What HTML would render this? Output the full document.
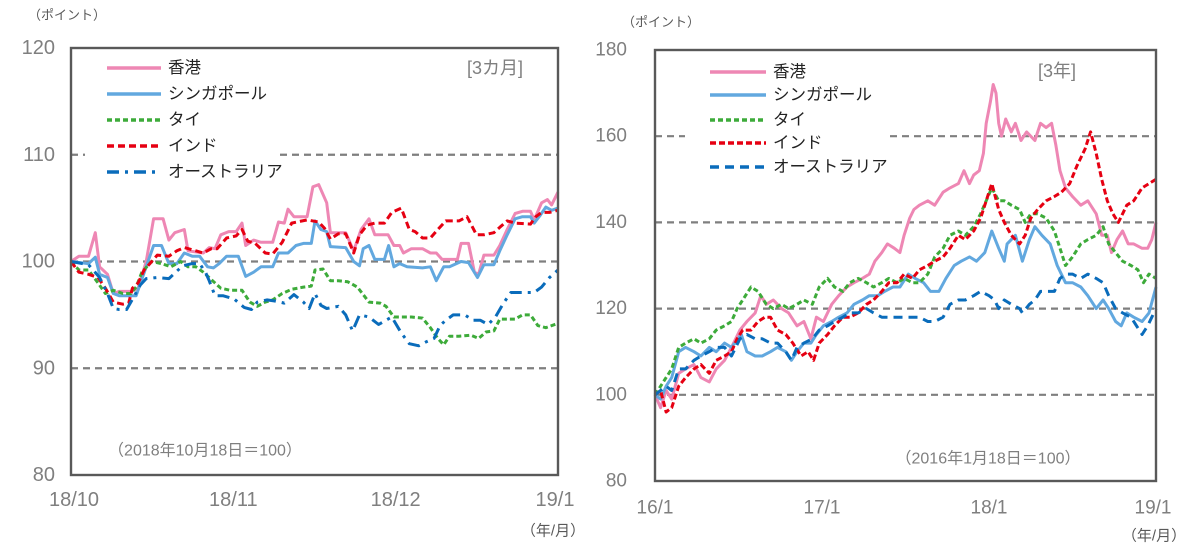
<!DOCTYPE html>
<html><head><meta charset="utf-8">
<style>
body{margin:0;background:#fff;}
svg{display:block;font-family:"Liberation Sans","Noto Sans CJK JP",sans-serif;}
</style></head>
<body>
<svg id="c" width="1188" height="549" viewBox="0 0 1188 549"></svg>
<script>
// ---------- Left chart data (x = days since 2018/10/18, 92 days to 2019/1/18) ----------
const leftTicksY=[80,90,100,110,120];
const leftTickLabelsX=["18/10","18/11","18/12","19/1"];
const hkD=[0,1.5,3.3,4.6,5.4,6.9,8.0,9.1,11.3,12.7,14.2,15.6,17.4,18.5,19.6,21.4,22.1,25.0,26.1,27.2,28.3,29.8,31.2,32.3,33.0,34.5,35.9,38.1,39.2,40.3,41.0,42.1,44.6,45.7,46.8,48.3,49.0,51.9,53.4,54.8,56.3,57.4,59.9,61.0,62.1,62.8,64.3,66.4,67.9,69.0,70.1,73.0,73.7,75.1,76.2,77.0,78.0,79.9,81.0,82.4,83.9,85.3,86.8,87.5,88.9,90.0,90.8,92.0];
const hkV=[100,100.5,100.5,102.7,99.5,98.8,97,97.2,97.2,97.5,100,104,104,102,102.7,103,101,100.8,101.3,101.2,102.5,102.8,102.8,103.6,101.5,102,101.8,101.8,103.7,103.6,104.9,104.2,104.2,107,107.2,105.5,102.7,102.7,101,103,104,102.5,102.5,101.5,101.5,100.8,101.2,101.2,100.8,100.8,100.2,100.2,101.7,101.7,99,98.8,100.6,100.6,101.5,103,104.5,104.7,104.7,103.9,105.5,105.8,105.3,106.5];
const sgD=[0,3.3,4.6,5.4,6.9,8.0,9.1,11.3,12.3,14.2,15.6,17.1,18.5,20.0,21.4,22.9,24.3,25.8,26.9,28.0,29.4,31.6,33.0,34.5,35.9,38.1,39.2,41.0,42.5,43.9,45.4,46.1,47.2,48.3,49.0,51.9,53.4,54.5,55.2,56.3,57.4,59.2,60.0,61.0,62.1,63.5,66.4,67.9,69.0,70.4,71.5,73.7,75.1,76.8,78.0,79.9,81.0,82.4,83.9,85.3,86.8,87.5,88.6,89.7,90.8,92.0];
const sgV=[100,99.8,100.4,98.8,98.5,97,96.8,96.8,96.8,99.5,101.5,101.5,99.8,99.8,100.8,100.5,100.5,99.5,99.4,99.8,100.5,100.5,98.6,99,99.5,99.5,100.8,100.8,101.5,101.7,101.7,103.8,103,102.8,101.4,101.3,100,99.6,101.2,101.5,100.2,100.2,101.5,99.5,99.8,99.5,99.4,99.5,98.2,99.5,99.5,100,99.9,98.5,99.7,99.7,101,102.5,104,104.2,104.2,103.6,104.3,105.1,104.8,105];
const inD=[0,1.5,3.3,5.1,6.5,8.0,9.8,10.9,11.6,12.7,13.8,14.9,16.3,18.5,20.0,21.4,23.6,25.0,26.5,27.6,29.4,31.2,32.3,33.4,34.8,36.7,38.1,39.9,41.7,44.6,46.8,47.9,49.0,50.5,51.9,53.4,54.5,55.9,57.4,59.2,60.6,62.4,63.9,65.0,66.4,67.9,69.3,70.8,73.3,74.8,76.6,78.0,79.9,81.0,82.4,83.9,86.8,87.8,88.9,90.4,92.0];
const inV=[100,99,98.8,98.5,97.5,96.2,96,96.1,97.5,98,99.2,99.8,100.6,100.5,101,101.3,101,100.8,101.2,101.2,102.2,102.4,103,101.9,101.7,100.8,100.7,101.8,103.6,103.9,103.7,103.1,102.1,102.6,102.6,100.8,102.5,103.4,103.6,103.6,104.6,105,103,102.8,102.2,102.2,103,103.8,103.8,104.2,102.5,102.5,102.7,103.2,103.8,103.6,103.5,104.2,104.6,104.6,104.8];
const thD=[0,1.5,3.3,5.1,6.5,8.0,9.8,11.3,12.3,13.4,15.2,17.1,18.9,20.7,22.1,23.6,25.0,26.5,28.3,30.1,32.3,33.8,35.2,36.7,38.1,39.9,41.7,43.9,45.4,46.1,47.6,49.0,50.5,52.3,54.1,56.3,58.4,59.5,61.0,62.4,64.3,66.4,67.9,69.3,70.4,71.5,73.3,75.5,77.0,78.4,79.9,81.0,82.4,83.9,85.3,86.8,88.2,89.7,92.0];
const thV=[100,99.2,99.2,98,97,97.3,97,97,97.6,99,100,99.8,99.5,100,99.5,99.5,99,98.3,97.5,97.3,97.3,96.2,95.8,96.2,96.4,97,97.4,97.6,97.7,99.2,99.3,98.2,98.2,98.1,97.6,96.2,96.1,95.8,94.8,94.8,94.8,94.7,93.8,92.8,92.2,93,93,93.1,92.8,93.4,93.5,94.6,94.6,94.6,95,95,94,93.8,94.2];
const auD=[0,3.3,5.4,6.9,8.0,9.1,10.5,12.0,13.1,14.2,16.3,18.5,20.0,21.1,22.9,24.3,25.4,26.1,27.2,28.7,30.8,32.7,34.1,35.2,37.0,38.5,40.3,42.1,43.9,45.0,46.1,47.2,48.3,50.5,51.9,53.2,54.5,56.3,58.1,59.5,60.6,62.4,63.9,65.7,67.2,68.6,69.7,70.8,72.2,74.4,75.9,77.3,78.8,80.2,81.7,83.1,85.3,87.5,88.9,90.4,92.0];
const auV=[100,99.7,98.5,97,95.6,95.5,95.5,96.8,97.8,98.4,98.5,98.4,99.1,99.6,99.8,99.8,99,98.2,96.8,96.8,96.5,95.7,95.5,96.2,96.4,96.3,96.1,96.9,96.2,95.6,97,95.9,95.6,95.8,95,93.5,95,94.8,94.1,94.5,94.8,93.3,92.3,92.1,92.5,92.8,94,94.5,95,95,94.5,94.5,94.1,94.8,96.1,97.1,97.1,97.1,97.6,98.5,99.2];

// ---------- Right chart data (x = months since 2016/1) ----------
const rightTicksY=[80,100,120,140,160,180];
const rightTickLabelsX=["16/1","17/1","18/1","19/1"];
const hk3M=[0,.4,.8,1.2,1.7,2.2,2.8,3.3,3.9,4.4,5.0,5.5,6.1,6.6,7.2,7.6,8.0,8.5,9.1,9.6,10.2,10.7,11.2,11.6,12.1,12.7,13.2,13.8,14.3,14.9,15.4,15.8,16.3,16.7,17.2,17.6,17.9,18.3,18.6,19.0,19.6,20.1,20.7,21.2,21.8,22.2,22.6,22.9,23.3,23.6,23.8,24.1,24.3,24.5,24.7,24.9,25.2,25.6,25.9,26.3,26.7,27.3,27.7,28.1,28.5,28.8,29.1,29.5,30.0,30.6,31.1,31.7,32.1,32.5,32.8,33.2,33.6,34.0,34.4,35.0,35.4,35.7,36];
const hk3V=[100,97,101,99,105,106,107,104,103,106,108,111,115,117,119,123,121,122,120,119,116,117,113,118,117,121,123,125,126,127,128,131,133,135,134,133,137,141,143,144,145,144,147,148,149,152,149,151,152,156,163,168,172,170,163,160,164,161,163,159,161,159,163,162,163,158,152,148,146,144,145,142,137,137,133,136,138,135,135,134,134,136,140];
const sg3M=[0,.4,.8,1.2,1.7,2.2,2.8,3.3,3.9,4.4,5.0,5.5,6.2,6.6,7.2,7.7,8.3,8.8,9.4,9.8,10.2,10.7,11.2,11.6,12.1,12.7,13.2,13.8,14.3,14.9,15.4,16.0,16.5,17.1,17.6,18.2,18.7,19.3,19.8,20.4,20.9,21.5,22.0,22.6,23.1,23.7,24.2,24.7,25.1,25.3,25.9,26.4,26.9,27.3,27.8,28.4,28.9,29.5,30.0,30.6,31.1,31.7,32.2,32.6,33.1,33.5,33.9,34.4,35.0,35.5,36];
const sg3V=[100,99,102,104,110,111,110,109,111,110,112,111,114,110,109,109,110,111,110,108,110,112,112,114,116,117,118,119,121,122,123,123,124,125,125,128,127,126,124,124,127,130,131,132,131,133,138,134,131,135,137,131,136,139,137,135,130,126,126,125,123,120,122,120,117,116,119,118,117,119,125];
const th3M=[0,.4,.8,1.2,1.7,2.2,2.8,3.3,3.9,4.4,5.0,5.5,5.9,6.3,6.9,7.4,8.0,8.5,9.1,9.6,10.2,10.7,11.3,11.8,12.4,12.9,13.5,14.0,14.6,15.2,15.7,16.3,16.8,17.4,17.9,18.5,19.0,19.6,20.1,20.7,21.2,21.8,22.3,22.9,23.4,23.8,24.2,24.7,25.1,25.6,26.2,26.6,27.0,27.5,28.1,28.7,29.1,29.5,30.0,30.6,31.1,31.7,32.2,32.6,33.1,33.6,34.2,34.7,35.1,35.5,36];
const th3V=[100,102,104,106,111,112,113,112,113,115,116,117,120,122,125,124,121,120,121,120,121,122,121,125,127,125,124,126,127,126,125,126,127,126,127,126,126,128,132,134,137,138,137,139,142,145,148,145,145,144,143,140,142,142,141,138,134,130,132,135,136,137,139,135,133,131,130,129,126,128,127];
const in3M=[0,.4,.8,1.2,1.7,2.2,2.8,3.3,3.9,4.4,5.0,5.5,5.9,6.3,6.9,7.4,7.9,8.3,8.8,9.4,9.9,10.5,11.0,11.4,11.8,12.4,12.9,13.5,14.0,14.6,15.2,15.7,16.3,16.8,17.4,17.9,18.5,19.0,19.6,20.1,20.7,21.2,21.8,22.3,22.9,23.4,23.8,24.2,24.7,25.1,25.6,26.2,26.6,27.0,27.5,28.1,28.7,29.2,29.8,30.3,30.9,31.3,31.7,32.1,32.5,32.9,33.3,33.9,34.4,35.0,35.5,36];
const in3V=[100,101,96,97,102,104,106,107,105,108,109,110,113,115,115,117,118,118,115,114,112,109,110,108,112,114,116,118,118,119,121,122,124,126,126,128,127,129,130,131,132,134,137,136,138,141,145,149,143,140,137,135,137,141,143,145,146,147,149,153,157,161,156,150,145,142,140,144,145,148,149,150];
const au3M=[0,.4,.8,1.2,1.7,2.2,2.8,3.3,3.9,4.4,5.0,5.5,6.1,6.6,7.2,7.7,8.3,8.8,9.4,9.8,10.2,10.7,11.3,11.8,12.4,12.9,13.5,14.0,14.6,15.2,15.7,16.3,16.8,17.4,17.9,18.5,19.0,19.6,20.1,20.7,21.2,21.8,22.3,22.9,23.4,24.0,24.4,24.7,25.1,25.6,26.2,26.4,26.9,27.3,27.7,28.2,28.7,29.1,29.5,30.0,30.6,31.1,31.7,32.2,32.6,33.1,33.6,34.2,34.6,35.0,35.4,35.7,36];
const au3V=[100,101,102,101,106,106,108,109,110,111,111,109,113,114,113,113,112,112,110,108,111,112,113,115,116,117,118,119,119,120,119,118,118,118,118,118,118,117,117,118,121,122,122,123,124,123,122,120,122,121,120,119,121,122,124,124,124,127,128,128,127,128,127,126,123,120,119,118,116,114,116,118,120];

const NS="http://www.w3.org/2000/svg";
const svg=document.getElementById('c');
function mk(tag,attrs,parent){const e=document.createElementNS(NS,tag);for(const k in attrs)e.setAttribute(k,attrs[k]);(parent||svg).appendChild(e);return e;}
function txt(x,y,s,size,anchor,fill,name){const t=mk('text',{x:x,y:y,'font-size':size,'text-anchor':anchor||'start',fill:fill||'#7f7f7f','dominant-baseline':'central'});t.textContent=s;


return t;}

function panel(cfg){
  const g=mk('g',{});
  
  
  const X=v=>cfg.x0+(v-cfg.xmin)/(cfg.xmax-cfg.xmin)*(cfg.x1-cfg.x0);
  const Y=v=>cfg.y1-(v-cfg.ymin)/(cfg.ymax-cfg.ymin)*(cfg.y1-cfg.y0);
  cfg.grid.forEach(v=>{
    const y=Y(v);
    const segs=(v===cfg.gapVal)?[[cfg.x0,cfg.gap[0]],[cfg.gap[1],cfg.x1]]:[[cfg.x0,cfg.x1]];
    segs.forEach(s=>{const l=mk('line',{x1:s[0],x2:s[1],y1:y,y2:y,stroke:'#7f7f7f','stroke-width':2.2,'stroke-dasharray':'7 5'},g);
    
    });
  });
  cfg.yticks.forEach(v=>{txt(cfg.ylabX,Y(v),String(v),cfg.fs,'end','#7f7f7f','y-tick-'+v);});
  cfg.xlabels.forEach((s,i)=>{const xv=cfg.xmin+i*(cfg.xmax-cfg.xmin)/(cfg.xlabels.length-1);txt(X(xv)+cfg.xoff[i],cfg.xlabY,s,cfg.fs,'middle','#7f7f7f','x-tick-'+s);});
  cfg.series.forEach(s=>{
    const d=s.x.map((xv,i)=>(i?'L':'M')+X(xv).toFixed(1)+' '+Y(s.y[i]).toFixed(1)).join(' ');
    const p=mk('path',{d:d,fill:'none',stroke:s.color,'stroke-width':s.w||3,'stroke-dasharray':s.dash||'none','stroke-linejoin':'round'},g);
    
    
  });
  const r=mk('rect',{x:cfg.x0,y:cfg.y0,width:cfg.x1-cfg.x0,height:cfg.y1-cfg.y0,fill:'none',stroke:'#595959','stroke-width':2.4},g);
  
  
  cfg.series.forEach((s,i)=>{
    const y=cfg.legY[i];
    const l=mk('line',{x1:cfg.legX,x2:cfg.legX+cfg.legW,y1:y,y2:y,stroke:s.color,'stroke-width':s.lw||3.5,'stroke-dasharray':s.ldash||s.dash||'none'},g);
    
    
    txt(cfg.legX+cfg.legW+7,y,s.label,cfg.legFs,'start','#222','legend-label-'+s.key);
  });
}

const leftSeries=[
 {key:'hongkong',label:'香港',x:hkD,y:hkV,color:'#ee87b4'},
 {key:'singapore',label:'シンガポール',x:sgD,y:sgV,color:'#62a8df'},
 {key:'thailand',label:'タイ',x:thD,y:thV,color:'#3dab3a',dash:'5 3'},
 {key:'india',label:'インド',x:inD,y:inV,color:'#e60012',dash:'7 4'},
 {key:'australia',label:'オーストラリア',x:auD,y:auV,color:'#0a6cbb',dash:'12 6 3 6'}
];
panel({name:'left-chart-3-month',x0:71,x1:558,y0:48,y1:475,xmin:0,xmax:92,ymin:80,ymax:120,
 grid:[90,100,110],gapVal:110,gap:[85,280],yticks:leftTicksY,ylabX:55,fs:20,
 xlabels:leftTickLabelsX,xoff:[3,0,0,-3],xlabY:500,series:leftSeries,
 legX:107,legW:54,legY:[68,94,120,146,172],legFs:16.5});
txt(495,68,'[3カ月]',18,'middle','#7f7f7f','period-label-3-month');
txt(205,451,'（2018年10月18日＝100）',16,'middle','#7f7f7f','base-date-note-left');
txt(28,15,'（ポイント）',13,'start','#595959','y-unit-left');
txt(553,531,'（年/月）',15,'middle','#595959','x-unit-left');

const rightSeries=[
 {key:'hongkong',label:'香港',x:hk3M,y:hk3V,color:'#ee87b4',w:3},
 {key:'singapore',label:'シンガポール',x:sg3M,y:sg3V,color:'#62a8df',w:3},
 {key:'thailand',label:'タイ',x:th3M,y:th3V,color:'#3dab3a',dash:'5 3',w:3},
 {key:'india',label:'インド',x:in3M,y:in3V,color:'#e60012',dash:'6 3',w:3},
 {key:'australia',label:'オーストラリア',x:au3M,y:au3V,color:'#0a6cbb',dash:'9 6',w:3}
];
panel({name:'right-chart-3-year',x0:655,x1:1156,y0:50,y1:481,xmin:0,xmax:36,ymin:80,ymax:180,
 grid:[100,120,140,160],gapVal:160,gap:[685,890],yticks:rightTicksY,ylabX:627,fs:19,
 xlabels:rightTickLabelsX,xoff:[0,0,0,-3],xlabY:508,series:rightSeries,
 legX:710,legW:56,legY:[72,95,120,143,167],legFs:16.5});
txt(1057,71,'[3年]',18,'middle','#7f7f7f','period-label-3-year');
txt(988,459,'（2016年1月18日＝100）',16,'middle','#7f7f7f','base-date-note-right');
txt(622,22,'（ポイント）',13,'start','#595959','y-unit-right');
txt(1154,536,'（年/月）',15,'middle','#595959','x-unit-right');
</script>
</body></html>
